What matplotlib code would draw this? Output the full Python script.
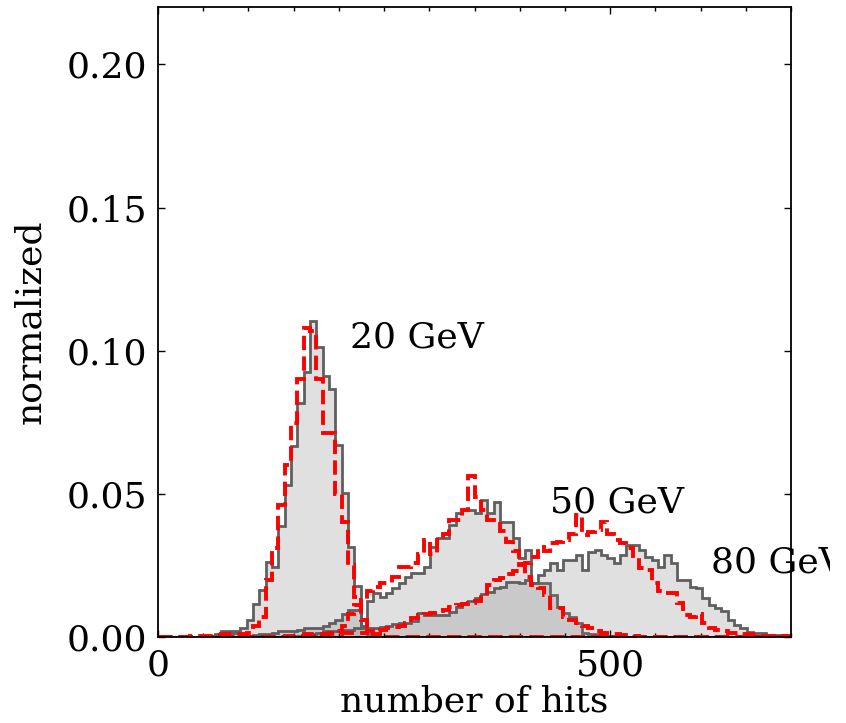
import numpy as np
import matplotlib
matplotlib.use("Agg")
import matplotlib.pyplot as plt
from matplotlib.transforms import Bbox, TransformedBbox

# bins of 7 hits between 0 and 700
bin_width = 7
n_bins = 100

# each histogram: first bin (in hits) and the normalized heights
start_grey_20 = 56
grey_20 = [0.0005, 0.001, 0.002, 0.002, 0.002, 0.003, 0.006, 0.0115, 0.0164, 0.0262,
           0.0246, 0.0386, 0.053, 0.0667, 0.0818, 0.0924, 0.1105, 0.1012, 0.091, 0.0867,
           0.0671, 0.0502, 0.0316, 0.0178, 0.003, 0.001, 0.0005]

start_red_20 = 35
red_20 = [0.0005, 0.0005, 0.0005, 0.0005, 0.0008, 0.001, 0.001, 0.001, 0.001, 0.0013,
          0.004, 0.007, 0.02, 0.031, 0.046, 0.060, 0.0747, 0.090, 0.108, 0.107,
          0.090, 0.0713, 0.0713, 0.050, 0.040, 0.025, 0.014, 0.006, 0.002, 0.001]

start_grey_50 = 70
grey_50 = [0.0015, 0.0015, 0.0015, 0.0005, 0.0005, 0.0008, 0.001, 0.001, 0.0015, 0.002,
           0.002, 0.002, 0.0025, 0.003, 0.003, 0.003, 0.004, 0.005, 0.006, 0.008,
           0.0094, 0.0094, 0.004, 0.0125, 0.0153, 0.0141, 0.0153, 0.017, 0.0188, 0.0211,
           0.0223, 0.0223, 0.0246, 0.0316, 0.0345, 0.0345, 0.039, 0.0432, 0.0442, 0.0442,
           0.0432, 0.0479, 0.0432, 0.0473, 0.0403, 0.0403, 0.0345, 0.0275, 0.0304, 0.0188,
           0.0188, 0.0188, 0.0147, 0.0106, 0.0085, 0.0071, 0.005, 0.0014, 0.0012, 0.001,
           0.0008, 0.0005, 0.0005]

start_red_50 = 140
red_50 = [0.0005, 0.0005, 0.0005, 0.0005, 0.0005, 0.001, 0.001, 0.0015, 0.002, 0.004,
          0.008, 0.011, 0.013, 0.016, 0.0175, 0.0188, 0.019, 0.021, 0.0246, 0.0246,
          0.026, 0.029, 0.034, 0.029, 0.034, 0.036, 0.041, 0.041, 0.0444, 0.0563,
          0.049, 0.0444, 0.041, 0.041, 0.037, 0.0333, 0.030, 0.0252, 0.021, 0.018,
          0.017, 0.0147, 0.010, 0.010, 0.007, 0.006, 0.005, 0.004, 0.003, 0.002,
          0.0015, 0.001, 0.001, 0.0008, 0.0005, 0.0005]

start_grey_80 = 154
grey_80 = [0.0005, 0.001, 0.001, 0.0015, 0.002, 0.002, 0.002, 0.0025, 0.0025, 0.003,
           0.0035, 0.003, 0.003, 0.0035, 0.004, 0.0045, 0.005, 0.005, 0.0055, 0.0083,
           0.0078, 0.0078, 0.0075, 0.0078, 0.0088, 0.0106, 0.0118, 0.0124, 0.0136, 0.015,
           0.0158, 0.017, 0.0175, 0.0193, 0.0193, 0.019, 0.020, 0.0188, 0.0217, 0.0234,
           0.0259, 0.0235, 0.0269, 0.0269, 0.0287, 0.0235, 0.0298, 0.0304, 0.0287, 0.0275,
           0.0259, 0.0287, 0.0322, 0.0322, 0.0304, 0.0281, 0.0269, 0.0246, 0.0287, 0.0258,
           0.020, 0.020, 0.0176, 0.017, 0.0136, 0.0112, 0.010, 0.0089, 0.006, 0.0042,
           0.003, 0.0019, 0.0013, 0.0013, 0.0007, 0.0007, 0.0007, 0.0003]

start_red_80 = 154
red_80 = [0.0005, 0.001, 0.001, 0.001, 0.001, 0.001, 0.001, 0.0015, 0.0015, 0.0015,
          0.0015, 0.002, 0.002, 0.0025, 0.003, 0.0035, 0.004, 0.005, 0.0065, 0.0078,
          0.008, 0.0085, 0.009, 0.0095, 0.0105, 0.011, 0.0115, 0.012, 0.0125, 0.0145,
          0.018, 0.020, 0.0205, 0.022, 0.023, 0.0255, 0.026, 0.028, 0.0316, 0.030,
          0.0328, 0.0333, 0.0337, 0.036, 0.0427, 0.0357, 0.0368, 0.0372, 0.0403, 0.036,
          0.034, 0.0328, 0.031, 0.0276, 0.024, 0.0235, 0.019, 0.016, 0.0153, 0.0155,
          0.0118, 0.0075, 0.007, 0.008, 0.005, 0.003, 0.0025, 0.002, 0.0015, 0.0013,
          0.001, 0.001, 0.0007, 0.0005, 0.0005, 0.0005, 0.0005, 0.0003]

labels = ["20 GeV", "50 GeV", "80 GeV"]
label_x = [212, 434, 611]
label_y = [0.1045, 0.047, 0.026]

edges = np.arange(0, bin_width * n_bins + 1, bin_width)
centers = edges[:-1] + bin_width / 2


def full_weights(start, values):
    # pone los valores en un array de 100 bins
    w = np.zeros(n_bins)
    k = start // bin_width
    w[k:k + len(values)] = values
    return w


plt.rcParams['font.family'] = 'DejaVu Serif'
plt.rcParams['font.size'] = 26

fig = plt.figure(figsize=(8.46, 7.23), dpi=100)
ax = fig.add_axes([0.1868, 0.119, 0.7482, 0.871])

fill = (0.5, 0.5, 0.5, 0.24)
edge = '#5f5f5f'

for start, vals in [(start_grey_20, grey_20), (start_grey_50, grey_50), (start_grey_80, grey_80)]:
    ax.hist(centers, bins=edges, weights=full_weights(start, vals), histtype='stepfilled',
            facecolor=fill, edgecolor=edge, linewidth=2)

for start, vals in [(start_red_20, red_20), (start_red_50, red_50), (start_red_80, red_80)]:
    ax.hist(centers, bins=edges, weights=full_weights(start, vals), histtype='step',
            color='red', linestyle='--', linewidth=2.8)

# el texto de 80 GeV se corta en el borde de la imagen original
clip = TransformedBbox(Bbox([[0, 0], [830 / 846, 1]]), fig.transFigure)
for txt, x, y in zip(labels, label_x, label_y):
    t = ax.text(x, y, txt, va='center', ha='left')
    t.set_clip_box(clip)
    t.set_clip_on(True)

ax.set_xlim(0, 700)
ax.set_ylim(0, 0.22)
ax.set_xticks([0, 500])
ax.set_xticks(np.arange(0, 701, 50), minor=True)
ax.set_yticks([0.0, 0.05, 0.10, 0.15, 0.20])
ax.set_yticklabels([f"{t:.2f}" for t in [0.0, 0.05, 0.10, 0.15, 0.20]])
ax.tick_params(which='both', direction='in', top=True, right=True)
ax.tick_params(which='major', length=5, width=1, pad=8)
ax.tick_params(which='minor', length=3, width=1)
for s in ax.spines.values():
    s.set_linewidth(1.3)

ax.set_xlabel("number of hits", labelpad=2)
ax.set_ylabel("normalized", labelpad=14)

plt.savefig('out.png', dpi=100)
